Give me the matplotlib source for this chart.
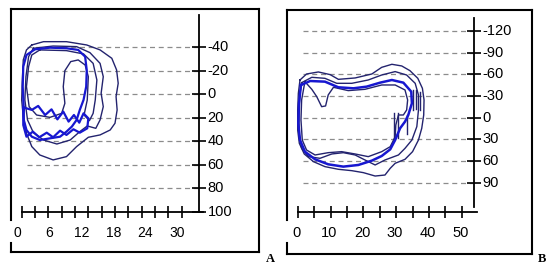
import matplotlib.pyplot as plt

plt.rcParams['font.family'] = ['Liberation Sans', 'DejaVu Sans']

# ---- panel A : volume (x) vs pressure (y, axis drawn upside down) ----
a_xticks = [0, 2.5, 5, 7.5, 10, 12.5, 15, 17.5, 20, 22.5, 25, 27.5, 30]
a_xlabels = [0, 6, 12, 18, 24, 30]
a_yticks = [-40, -20, 0, 20, 40, 60, 80, 100]
a_grid = [-40, -20, 0, 20, 40, 60, 80]

a_loop1_x = [1.9, 4.1, 8.4, 12.2, 14.7, 16.9, 17.8, 18.1, 17.7, 17.9, 17.5, 16.6, 14.7,
             12.5, 10.3, 8.4, 5.9, 3.4, 1.9, 0.9, 0.3, 0.0, 0.1, 0.3, 0.9]
a_loop1_y = [-41.7, -44.5, -44.5, -41.7, -37.5, -30.4, -20.5, -9.2, 2.1, 13.4, 24.7, 30.4, 34.6,
             36.6, 44.5, 53.0, 55.8, 51.6, 44.5, 33.2, 19.1, 4.9, -9.2, -29.0, -37.5]
a_loop2_x = [2.2, 5.9, 10.3, 12.8, 14.7, 15.3, 14.9, 15.3, 14.7, 13.9, 12.3, 10.9, 9.1, 6.6,
             4.1, 2.2, 1.1, 0.6, 0.8, 1.3]
a_loop2_y = [-38.9, -40.8, -40.3, -35.2, -26.1, -14.8, -0.7, 10.6, 21.9, 29.0, 27.0, 31.8, 38.9,
             42.3, 38.9, 32.7, 21.9, 4.9, -14.8, -31.8]
a_loop3_x = [3.4, 8.4, 11.6, 13.4, 14.1, 13.8, 13.4, 12.7, 11.7, 12.3, 12.5, 11.9, 10.6, 9.2,
             8.1, 7.8, 8.1, 7.5, 5.3, 2.8, 1.4, 0.9, 1.3, 1.9]
a_loop3_y = [-37.5, -36.9, -34.1, -26.1, -12.0, 4.9, 16.3, 22.5, 17.7, 4.9, -14.8, -24.7, -29.0,
             -27.6, -19.9, -6.4, 7.8, 16.3, 19.7, 17.7, 10.6, -6.4, -23.3, -33.2]
a_loop4_x = [0.4, 0.2, 0.3, 0.9, 2.5, 5.3, 8.4, 10.6, 11.9, 12.2, 12.1, 11.6, 10.9, 10.3, 9.4,
             8.4, 7.2, 5.3, 3.4, 1.9, 0.9, 0.4]
a_loop4_y = [13.4, -6.4, -23.3, -33.2, -38.0, -39.4, -38.9, -37.5, -31.8, -20.5, -6.4, 4.9, 13.4,
             21.9, 27.6, 31.8, 36.1, 37.5, 38.9, 36.1, 30.4, 21.9]
a_loop5_x = [0.3, 1.9, 3.1, 4.4, 5.6, 6.7, 7.8, 8.8, 9.8, 10.8, 11.6, 12.5, 12.3, 10.9, 9.7,
             8.4, 7.2, 5.9, 4.7, 3.3, 2.1, 0.9, 0.3]
a_loop5_y = [11.2, 13.4, 10.0, 17.7, 12.9, 21.4, 14.8, 23.3, 17.7, 24.2, 16.3, 20.5, 29.0, 32.7,
             29.8, 34.6, 31.0, 36.6, 32.7, 36.6, 31.8, 36.1, 26.2]

# ---- panel B ----
b_xticks = [0, 5, 10, 15, 20, 25, 30, 35, 40, 45, 50]
b_xlabels = [0, 10, 20, 30, 40, 50]
b_yticks = [-120, -90, -60, -30, 0, 30, 60, 90]
b_grid = [-120, -90, -60, -30, 0, 30, 60, 90]

b_loop1_x = [0.7, 2.7, 6.3, 9.9, 12.4, 17.5, 22.6, 25.6, 28.7, 31.7, 34.2, 36.6, 38.0, 38.5,
             38.4, 37.8, 36.8, 35.0, 32.7, 29.7, 28.2, 26.6, 23.6, 20.0, 16.5, 12.4, 8.3, 4.8,
             2.0, 0.5, 0.0, 0.0, 0.2]
b_loop1_y = [-52.2, -60.5, -63.3, -59.6, -53.1, -55.0, -60.5, -69.7, -73.9, -71.6, -65.1, -54.5,
             -40.7, -24.6, -3.8, 14.6, 30.8, 46.9, 57.5, 63.0, 69.9, 79.2, 80.6, 75.9, 73.2, 71.3,
             67.6, 60.7, 50.1, 35.4, 16.9, -10.7, -33.8]
b_loop2_x = [1.2, 4.3, 8.3, 11.9, 16.5, 21.5, 25.6, 29.7, 33.2, 35.8, 36.8, 36.8, 36.3, 34.8,
             32.7, 30.7, 26.6, 23.6, 20.5, 17.5, 13.9, 10.4, 6.8, 3.3, 1.2, 0.4, 0.4, 0.7]
b_loop2_y = [-48.5, -55.9, -54.5, -47.6, -47.6, -52.2, -59.1, -63.8, -59.1, -47.6, -31.5, -10.7,
             12.3, 30.8, 42.3, 51.5, 58.4, 65.3, 58.4, 51.5, 48.3, 50.1, 56.1, 53.8, 42.3, 21.5,
             -10.7, -33.8]
b_loop3_x = [1.0, 3.8, 8.3, 12.4, 17.0, 21.0, 25.1, 28.7, 32.2, 34.6, 34.8, 33.7, 32.7, 31.2,
             29.7, 28.2, 25.6, 22.6, 18.5, 13.9, 9.3, 5.3, 2.2, 0.7, 0.2, 0.4]
b_loop3_y = [-45.3, -50.8, -49.9, -42.1, -40.7, -43.0, -48.5, -52.2, -48.5, -36.1, -20.0, -3.8,
             5.4, 14.6, 30.8, 43.7, 52.9, 59.3, 65.3, 67.6, 64.4, 57.5, 46.9, 30.8, 7.7, -20.0]
b_loop4_x = [2.2, 4.3, 5.8, 7.3, 8.5, 9.3, 10.9, 15.4, 20.5, 25.6, 29.7, 32.7, 33.5, 33.2, 32.2,
             30.7, 29.9, 29.7, 28.2, 25.6, 21.5, 17.5, 13.4, 9.3, 5.3, 2.7, 1.4, 1.0, 1.2]
b_loop4_y = [-49.9, -39.3, -29.2, -15.3, -16.3, -31.5, -42.1, -37.5, -39.3, -45.3, -45.3, -38.4,
             -24.6, -10.7, -3.8, -3.8, 10.0, 26.2, 40.0, 46.9, 53.8, 50.1, 46.9, 48.3, 51.5,
             44.6, 30.8, 3.1, -24.6]
# short vertical strokes on the right side of the loops
b_strokes_x = [29.2, 30.7, 33.2, 35.0, 36.0, 37.3]
b_strokes_y0 = [-6.1, -6.1, -4.0, -38.4, -38.4, -36.0]
b_strokes_y1 = [30.8, 28.0, 22.0, -10.7, -12.0, -10.7]

NAVY = '#23236e'
BLUE = '#1717d0'


def closed(xs, ys):
    return list(xs) + [xs[0]], list(ys) + [ys[0]]


def frame(ax, gap0, gap1):
    for s in ['top', 'right', 'bottom']:
        ax.spines[s].set_linewidth(1.5)
    ax.spines['left'].set_visible(False)
    ax.plot([0, 0], [0, gap0], color='k', lw=1.5, transform=ax.transAxes, clip_on=False)
    ax.plot([0, 0], [gap1, 1], color='k', lw=1.5, transform=ax.transAxes, clip_on=False)
    ax.set_xticks([])
    ax.set_yticks([])


def draw_axes(ax, vx, vtop, vbot, hy, hx1, xticks, xlabels, yticks, grid, gx0,
              xlab_dx, xlab_size):
    ax.plot([vx, vx], [vtop, vbot], color='k', lw=1.3)
    ax.plot([0, hx1], [hy, hy], color='k', lw=1.3)
    ax.plot(xticks, [hy] * len(xticks), ls='none', marker='|', ms=9, mew=1.2, color='k')
    ax.plot([vx] * len(yticks), yticks, ls='none', marker='_', ms=10, mew=1.2, color='k')
    for g in grid:
        ax.plot([gx0, vx], [g, g], color='#8c8c8c', lw=0.9, dashes=(4, 3), zorder=1)
    for t in yticks:
        ax.annotate(str(t), (vx, t), xytext=(6.0, 0), textcoords='offset points',
                    ha='left', va='center', fontsize=10.5)
    for t in xlabels:
        ax.annotate(str(t), (t, hy), xytext=(xlab_dx, -15), textcoords='offset points',
                    ha='center', va='center', fontsize=xlab_size)


fig = plt.figure(figsize=(5.5, 2.69), dpi=100)

axA = fig.add_axes([0.020, 0.0632, 0.4509, 0.9033])
axA.set_xlim(-2.0, 44.5)
axA.set_ylim(133.9, -72.2)
frame(axA, 0.037, 0.132)
draw_axes(axA, 33.3, -67, 100, 100, 34.0, a_xticks, a_xlabels, a_yticks, a_grid, 1.0, -3, 10)
for xs, ys in [(a_loop1_x, a_loop1_y), (a_loop2_x, a_loop2_y), (a_loop3_x, a_loop3_y)]:
    axA.plot(*closed(xs, ys), color=NAVY, lw=1.0, zorder=3)
for xs, ys in [(a_loop4_x, a_loop4_y), (a_loop5_x, a_loop5_y)]:
    axA.plot(*closed(xs, ys), color=BLUE, lw=1.6, zorder=4)

axB = fig.add_axes([0.5218, 0.0558, 0.4455, 0.9071])
axB.set_xlim(-3.26, 71.4)
axB.set_ylim(188.4, -149)
frame(axB, 0.045, 0.139)
draw_axes(axB, 53.8, -137.6, 123, 130.3, 54.7, b_xticks, b_xlabels, b_yticks, b_grid, 1.7, -1, 10.5)
for xs, ys in [(b_loop1_x, b_loop1_y), (b_loop2_x, b_loop2_y), (b_loop4_x, b_loop4_y)]:
    axB.plot(*closed(xs, ys), color=NAVY, lw=1.0, zorder=3)
axB.plot(*closed(b_loop3_x, b_loop3_y), color=BLUE, lw=1.8, zorder=4)
for x, y0, y1 in zip(b_strokes_x, b_strokes_y0, b_strokes_y1):
    axB.plot([x, x], [y0, y1], color=NAVY, lw=1.0, zorder=3)

fig.text(270 / 550, 1 - 259 / 269, 'A', family='Liberation Serif', weight='bold',
         fontsize=9, ha='center', va='center')
fig.text(542 / 550, 1 - 259 / 269, 'B', family='Liberation Serif', weight='bold',
         fontsize=9, ha='center', va='center')

fig.savefig('out.png', dpi=100)
